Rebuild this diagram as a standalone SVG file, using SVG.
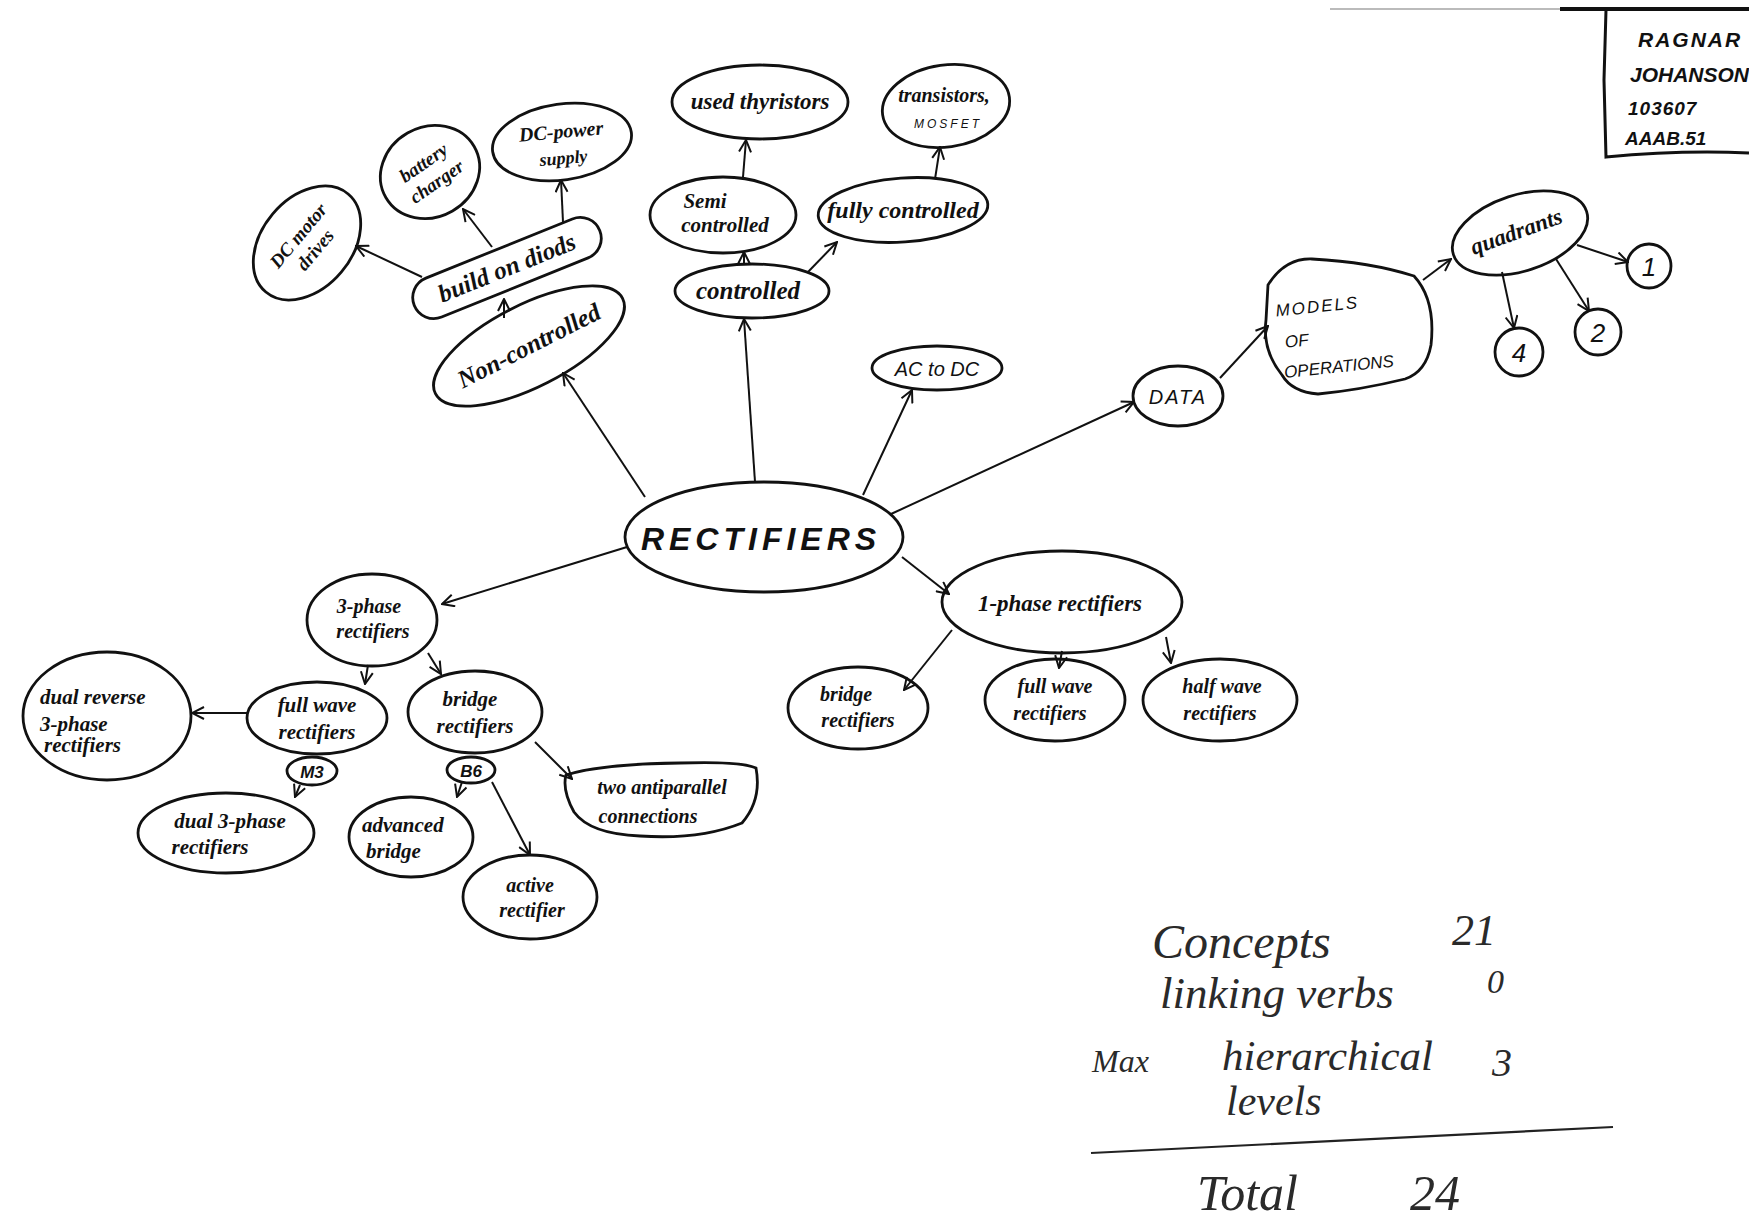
<svg xmlns="http://www.w3.org/2000/svg" width="1749" height="1227" viewBox="0 0 1749 1227">
<defs>
<marker id="ah" viewBox="0 0 14 14" refX="13" refY="7" markerWidth="14" markerHeight="14" markerUnits="userSpaceOnUse" orient="auto">
<path d="M1,1 L13,7 L1,13" fill="none" stroke="#111" stroke-width="2"/>
</marker>
<style>
.n{fill:#fff;stroke:#111;stroke-width:2.8}
.c{stroke:#111;stroke-width:2;fill:none;marker-end:url(#ah)}
.h{font-family:"Liberation Serif","DejaVu Serif",serif;font-style:italic;font-weight:bold;fill:#111;text-anchor:middle}
.k{font-family:"Liberation Sans","DejaVu Sans",sans-serif;font-style:italic;fill:#111;text-anchor:middle}
.st{text-anchor:start}
.s{font-family:"Liberation Serif","DejaVu Serif",serif;font-style:italic;fill:#2a2a2a}
.p{font-family:"Liberation Sans","DejaVu Sans",sans-serif;font-style:italic;font-weight:bold;fill:#111}
</style>
</defs>
<rect width="1749" height="1227" fill="#fff"/>

<!-- name box -->
<g id="namebox">
<path d="M1330,9 L1749,9" stroke="#bbb" stroke-width="2"/>
<path d="M1560,9 L1749,9" stroke="#111" stroke-width="4"/>
<path d="M1606,10 L1604,80 L1606,157 Q1680,150 1749,153" fill="none" stroke="#111" stroke-width="3"/>
<text class="p" x="1638" y="47" font-size="21" letter-spacing="2">RAGNAR</text>
<text class="p" x="1630" y="82" font-size="21">JOHANSON</text>
<text class="p" x="1628" y="115" font-size="19" letter-spacing="1">103607</text>
<text class="p" x="1625" y="145" font-size="19">AAAB.51</text>
</g>

<!-- nodes -->
<g id="rectifiers"><ellipse class="n" cx="764" cy="537" rx="139" ry="55"/><text class="k" x="761" y="550" font-size="32" font-weight="bold" letter-spacing="5">RECTIFIERS</text></g>

<g id="non-controlled"><ellipse class="n" cx="529" cy="346" rx="105" ry="41" transform="rotate(-27 529 346)"/><text class="h" x="529" y="354" font-size="25" font-weight="normal" transform="rotate(-27 529 346)">Non-controlled</text></g>
<g id="build-on-diods"><rect class="n" x="407" y="247" width="200" height="42" rx="21" transform="rotate(-22 507 268)"/><text class="h" x="507" y="276" font-size="25" transform="rotate(-22 507 268)">build on diods</text></g>
<g id="dc-motor-drives"><ellipse class="n" cx="307" cy="243" rx="64" ry="45" transform="rotate(-50 307 243)"/><text class="h" font-size="19" font-weight="normal" transform="rotate(-50 307 243)"><tspan x="307" y="238">DC motor</tspan><tspan x="307" y="260">drives</tspan></text></g>
<g id="battery-charger"><ellipse class="n" cx="430" cy="172" rx="51" ry="45" transform="rotate(-30 430 172)"/><text class="h" font-size="19" transform="rotate(-35 430 172)"><tspan x="430" y="167">battery</tspan><tspan x="430" y="190">charger</tspan></text></g>
<g id="dc-power-supply"><ellipse class="n" cx="562" cy="142" rx="70" ry="38" transform="rotate(-8 562 142)"/><text class="h" font-size="20" font-weight="normal" transform="rotate(-5 562 142)"><tspan x="562" y="138">DC-power</tspan><tspan x="562" y="164" font-size="18">supply</tspan></text></g>

<g id="controlled"><ellipse class="n" cx="752" cy="291" rx="77" ry="27"/><text class="h" x="748" y="299" font-size="25">controlled</text></g>
<g id="semi-controlled"><ellipse class="n" cx="723" cy="215" rx="73" ry="38"/><text class="h" font-size="21"><tspan x="705" y="208">Semi</tspan><tspan x="725" y="232">controlled</tspan></text></g>
<g id="used-thyristors"><ellipse class="n" cx="760" cy="102" rx="88" ry="37"/><text class="h" x="760" y="109" font-size="23">used thyristors</text></g>
<g id="fully-controlled"><ellipse class="n" cx="903" cy="210" rx="85" ry="32" transform="rotate(-4 903 210)"/><text class="h" x="903" y="218" font-size="24">fully controlled</text></g>
<g id="transistors-mosfet"><ellipse class="n" cx="946" cy="106" rx="64" ry="41" transform="rotate(-8 946 106)"/><text class="h" x="944" y="102" font-size="20">transistors,</text><text class="k" x="948" y="128" font-size="12" letter-spacing="3">MOSFET</text></g>
<g id="ac-to-dc"><ellipse class="n" cx="937" cy="368" rx="65" ry="22"/><text class="k" x="937" y="376" font-size="20">AC to DC</text></g>

<g id="data"><ellipse class="n" cx="1178" cy="396" rx="45" ry="30"/><text class="k" x="1178" y="404" font-size="20" letter-spacing="2">DATA</text></g>
<g id="models-of-operations"><path class="n" d="M1268,285 Q1285,258 1312,259 Q1370,262 1414,276 Q1436,300 1431,345 Q1426,372 1405,379 Q1360,390 1318,394 Q1292,392 1282,375 Q1262,350 1266,320 Z"/><text class="k st" font-size="17" transform="rotate(-6 1340 330)"><tspan x="1278" y="310" letter-spacing="2">MODELS</tspan><tspan x="1284" y="342">OF</tspan><tspan x="1280" y="372">OPERATIONS</tspan></text></g>
<g id="quadrants"><ellipse class="n" cx="1520" cy="233" rx="70" ry="38" transform="rotate(-18 1520 233)"/><text class="h" x="1517" y="238" font-size="23" transform="rotate(-20 1520 233)">quadrants</text></g>
<g id="q1"><circle class="n" cx="1649" cy="266" r="22"/><text class="k" x="1649" y="276" font-size="26">1</text></g>
<g id="q2"><circle class="n" cx="1598" cy="332" r="23"/><text class="k" x="1598" y="342" font-size="26">2</text></g>
<g id="q4"><circle class="n" cx="1519" cy="352" r="24"/><text class="k" x="1519" y="362" font-size="26">4</text></g>

<g id="three-phase"><ellipse class="n" cx="372" cy="620" rx="65" ry="46"/><text class="h" font-size="20" font-weight="normal"><tspan x="369" y="613">3-phase</tspan><tspan x="373" y="638">rectifiers</tspan></text></g>
<g id="dual-reverse"><ellipse class="n" cx="107" cy="716" rx="84" ry="64"/><text class="h st" font-size="21" font-weight="normal"><tspan x="40" y="704">dual reverse</tspan><tspan x="40" y="731">3-phase</tspan><tspan x="44" y="752">rectifiers</tspan></text></g>
<g id="full-wave-left"><ellipse class="n" cx="317" cy="718" rx="70" ry="36"/><text class="h" font-size="21"><tspan x="317" y="712">full wave</tspan><tspan x="317" y="739">rectifiers</tspan></text></g>
<g id="m3"><ellipse class="n" cx="312" cy="771" rx="25" ry="14"/><text class="k" x="312" y="778" font-size="17" font-weight="bold">M3</text></g>
<g id="bridge-left"><ellipse class="n" cx="475" cy="712" rx="67" ry="41"/><text class="h" font-size="21"><tspan x="470" y="706">bridge</tspan><tspan x="475" y="733">rectifiers</tspan></text></g>
<g id="b6"><ellipse class="n" cx="471" cy="770" rx="24" ry="13"/><text class="k" x="471" y="777" font-size="17" font-weight="bold">B6</text></g>
<g id="dual-3-phase"><ellipse class="n" cx="226" cy="833" rx="88" ry="40"/><text class="h" font-size="21" font-weight="normal"><tspan x="230" y="828">dual 3-phase</tspan><tspan x="210" y="854">rectifiers</tspan></text></g>
<g id="advanced-bridge"><ellipse class="n" cx="411" cy="837" rx="62" ry="40"/><text class="h st" font-size="21" font-weight="normal"><tspan x="362" y="832">advanced</tspan><tspan x="366" y="858">bridge</tspan></text></g>
<g id="active-rectifier"><ellipse class="n" cx="530" cy="897" rx="67" ry="42"/><text class="h" font-size="20" font-weight="normal"><tspan x="530" y="892">active</tspan><tspan x="532" y="917">rectifier</tspan></text></g>
<g id="two-antiparallel"><path class="n" d="M566,775 Q600,764 680,763 Q740,761 756,768 Q762,800 742,823 Q700,840 640,836 Q590,834 574,812 Q562,790 566,775 Z"/><text class="h" font-size="20" font-weight="normal"><tspan x="662" y="794">two antiparallel</tspan><tspan x="648" y="823">connections</tspan></text></g>

<g id="one-phase"><ellipse class="n" cx="1062" cy="602" rx="120" ry="51"/><text class="h" x="1060" y="611" font-size="23" font-weight="normal">1-phase rectifiers</text></g>
<g id="bridge-right"><ellipse class="n" cx="858" cy="708" rx="70" ry="41"/><text class="h" font-size="20"><tspan x="846" y="701">bridge</tspan><tspan x="858" y="727">rectifiers</tspan></text></g>
<g id="full-wave-right"><ellipse class="n" cx="1055" cy="700" rx="70" ry="41"/><text class="h" font-size="20" font-weight="normal"><tspan x="1055" y="693">full wave</tspan><tspan x="1050" y="720">rectifiers</tspan></text></g>
<g id="half-wave"><ellipse class="n" cx="1220" cy="700" rx="77" ry="41"/><text class="h" font-size="20" font-weight="normal"><tspan x="1222" y="693">half wave</tspan><tspan x="1220" y="720">rectifiers</tspan></text></g>

<!-- connectors -->
<g id="connectors">
<path class="c" d="M645,497 L563,373"/>
<path class="c" d="M504,318 L504,299"/>
<path class="c" d="M422,277 L356,246"/>
<path class="c" d="M492,247 L463,209"/>
<path class="c" d="M563,222 L561,180"/>
<path class="c" d="M755,482 L744,319"/>
<path class="c" d="M744,265 L744,252"/>
<path class="c" d="M743,177 L746,140"/>
<path class="c" d="M808,272 L837,242"/>
<path class="c" d="M935,179 L940,147"/>
<path class="c" d="M863,495 L912,390"/>
<path class="c" d="M891,514 L1134,402"/>
<path class="c" d="M1220,378 L1268,326"/>
<path class="c" d="M1423,280 L1451,259"/>
<path class="c" d="M1577,245 L1628,262"/>
<path class="c" d="M1556,259 L1589,311"/>
<path class="c" d="M1502,272 L1514,328"/>
<path class="c" d="M627,547 L442,604"/>
<path class="c" d="M368,665 L365,684"/>
<path class="c" d="M428,653 L441,674"/>
<path class="c" d="M248,713 L192,713"/>
<path class="c" d="M300,785 L295,797"/>
<path class="c" d="M462,782 L457,797"/>
<path class="c" d="M492,782 L530,855"/>
<path class="c" d="M535,742 L572,779"/>
<path class="c" d="M902,557 L949,594"/>
<path class="c" d="M952,630 L904,690"/>
<path class="c" d="M1062,651 L1059,668"/>
<path class="c" d="M1166,637 L1171,663"/>
</g>

<!-- score notes -->
<g id="scores">
<text class="s" x="1152" y="958" font-size="48">Concepts</text>
<text class="s" x="1452" y="945" font-size="44">21</text>
<text class="s" x="1160" y="1008" font-size="45">linking verbs</text>
<text class="s" x="1487" y="993" font-size="34">0</text>
<text class="s" x="1092" y="1072" font-size="32">Max</text>
<text class="s" x="1222" y="1070" font-size="43">hierarchical</text>
<text class="s" x="1492" y="1076" font-size="40">3</text>
<text class="s" x="1226" y="1115" font-size="42">levels</text>
<path d="M1091,1153 L1613,1127" stroke="#222" stroke-width="2.2" fill="none"/>
<text class="s" x="1197" y="1210" font-size="50">Total</text>
<text class="s" x="1410" y="1210" font-size="50">24</text>
</g>
</svg>
